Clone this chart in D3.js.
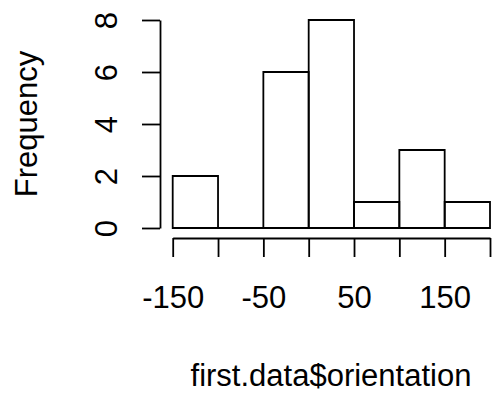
<!DOCTYPE html>
<html>
<head>
<meta charset="utf-8">
<script src="https://cdn.jsdelivr.net/npm/d3@7"></script>
<style>
body { margin: 0; background: #fff; }
text { font-family: "Liberation Sans", Arial, sans-serif; fill: #000; }
</style>
</head>
<body>
<div id="graph"></div>
<script>
var svgWidth = 494;
var svgHeight = 394;

// histogram data
var binEdges = [-150, -100, -50, 0, 50, 100, 150, 200];
var counts = [2, 0, 6, 8, 1, 3, 1];
var xTickLabels = [-150, -50, 50, 150];
var yTicks = [0, 2, 4, 6, 8];

var xAxisTitleText = "first.data$orientation";
var yAxisTitleText = "Frequency";

var fontSize = 31;

var x = d3.scaleLinear()
	.domain([-150, 200])
	.range([172.7, 490]);

var y = d3.scaleLinear()
	.domain([0, 8])
	.range([228, 20]);

var svg = d3.select("#graph")
	.append("svg")
	.attr("width", svgWidth)
	.attr("height", svgHeight);

// bars (paths, so an empty bin still shows its bottom edge like R does)
var bins = counts.map(function(c, i) {
	return { x0: binEdges[i], x1: binEdges[i + 1], n: c };
});

svg.append("g")
	.selectAll("path")
	.data(bins)
	.enter().append("path")
	.attr("d", function(d) {
		var p = d3.path();
		p.rect(x(d.x0), y(d.n), x(d.x1) - x(d.x0), y(0) - y(d.n));
		return p.toString();
	})
	.attr("fill", "none")
	.attr("stroke", "#000")
	.attr("stroke-width", 1.8);

// x axis
var xAxis = svg.append("g")
	.attr("transform", "translate(0,238)")
	.call(d3.axisBottom(x)
		.tickValues(binEdges)
		.tickSize(19)
		.tickSizeOuter(0)
		.tickFormat(function(d) { return xTickLabels.indexOf(d) >= 0 ? d : ""; }));

xAxis.selectAll("text")
	.attr("font-size", fontSize)
	.attr("font-family", "Liberation Sans, Arial, sans-serif")
	.attr("dy", 0)
	.attr("y", 70);

// y axis
var yAxis = svg.append("g")
	.attr("transform", "translate(160,0)")
	.call(d3.axisLeft(y)
		.tickValues(yTicks)
		.tickSize(18)
		.tickSizeOuter(0)
		.tickFormat(d3.format("d")));

yAxis.selectAll("text")
	.attr("font-size", fontSize)
	.attr("font-family", "Liberation Sans, Arial, sans-serif")
	.attr("x", null)
	.attr("dy", null)
	.attr("text-anchor", "middle")
	.attr("transform", "translate(-43,0) rotate(-90)");

svg.selectAll(".domain, .tick line")
	.attr("stroke", "#000")
	.attr("stroke-width", 1.8);

// axis titles
svg.append("text")
	.attr("x", 331)
	.attr("y", 386)
	.attr("text-anchor", "middle")
	.attr("font-size", fontSize)
	.text(xAxisTitleText);

svg.append("text")
	.attr("transform", "translate(37,124) rotate(-90)")
	.attr("text-anchor", "middle")
	.attr("font-size", fontSize)
	.text(yAxisTitleText);
</script>
</body>
</html>
